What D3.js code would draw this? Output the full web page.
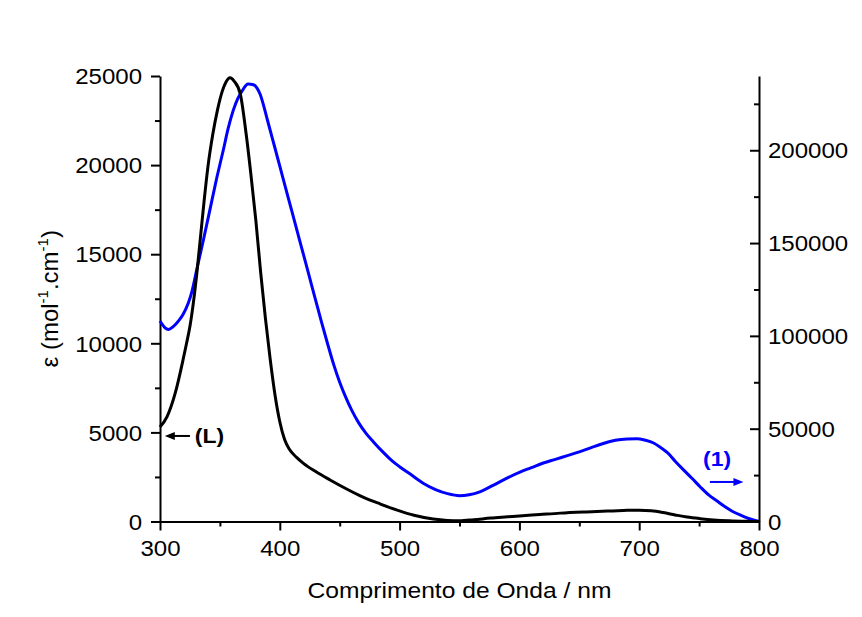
<!DOCTYPE html>
<html>
<head>
<meta charset="utf-8">
<script src="https://cdn.jsdelivr.net/npm/d3@7"></script>
<style>
  body { margin: 0; background: #fff; }
  svg { display: block; }
  text { font-family: "Liberation Sans", Arial, sans-serif; fill: #000; }
</style>
</head>
<body>
<svg id="chart" width="862" height="617"></svg>
<script>
// ---- data ----
const xTicks = [300, 400, 500, 600, 700, 800];
const xMinorTicks = [350, 450, 550, 650, 750];
const yLeftTicks = [0, 5000, 10000, 15000, 20000, 25000];
const yLeftMinorTicks = [2500, 7500, 12500, 17500, 22500];
const yRightTicks = [0, 50000, 100000, 150000, 200000];
const yRightMinorTicks = [25000, 75000, 125000, 175000, 225000];

// ligand (L), left axis
const wavelengthL = [300, 305.8, 312.7, 319.2, 322, 325, 328, 331, 334, 337, 340, 344, 348, 352, 355, 358.5, 362, 367, 372, 376, 380, 384, 388, 392, 396, 400, 404, 408, 414, 420, 430, 442, 455, 469, 484, 498, 512, 528, 540, 550, 562, 576, 590, 600, 617, 634, 656, 678, 690, 700, 710, 720, 730, 740, 751, 762, 775, 790, 800];
const epsilonL    = [5300, 5870, 7200, 9060, 9950, 10950, 12350, 14100, 16100, 18100, 19900, 21700, 23100, 24150, 24650, 24900, 24700, 24000, 21700, 19400, 16900, 14000, 11400, 9100, 7100, 5600, 4600, 4050, 3600, 3250, 2800, 2330, 1850, 1380, 980, 640, 350, 140, 60, 40, 100, 190, 260, 310, 390, 470, 540, 595, 625, 635, 600, 500, 370, 250, 160, 90, 40, 10, 0];

// complex (1), right axis
const wavelength1 = [300, 304, 307, 311, 316, 319.2, 326.7, 331.3, 336, 341.7, 347, 352.8, 357, 361.2, 365, 368.4, 373.5, 378, 381, 383.5, 390, 395, 400, 405, 410, 415, 420, 425, 430, 435, 440, 445, 450, 455, 460, 466, 472, 478, 486, 494, 500, 510, 520, 530, 540, 550, 558, 567, 578, 590, 600, 610, 620, 630, 640, 650, 660, 670, 680, 690, 698, 705, 712, 718, 724, 730, 737, 744, 751, 758, 765, 772, 778, 785, 792, 800];
const epsilon1    = [108000, 104500, 103500, 105000, 108500, 111500, 124000, 137500, 151000, 168000, 184000, 200000, 212000, 221600, 228000, 231800, 235700, 235300, 233500, 230300, 215500, 203500, 191400, 179300, 167300, 155200, 143200, 131100, 119000, 107000, 95500, 84500, 75000, 67000, 60000, 53000, 47500, 43000, 37500, 32500, 29500, 25000, 20500, 17200, 15000, 13900, 14400, 16000, 19500, 23500, 26500, 29000, 31500, 33500, 35500, 37500, 39800, 42000, 43800, 44500, 44600, 43800, 42300, 39800, 36800, 32500, 27800, 23300, 18600, 14300, 11000, 7800, 5400, 3300, 1500, 0];

const xTitle = "Comprimento de Onda / nm";
const labelL = "(L)";
const label1 = "(1)";

// ---- layout ----
const SX = 1.12; // horizontal text stretch seen in the reference
const svg = d3.select("#chart");
svg.append("rect").attr("width", 862).attr("height", 617).attr("fill", "#fff");

const x = d3.scaleLinear().domain([300, 800]).range([160, 759]);
const yL = d3.scaleLinear().domain([0, 25000]).range([521.5, 76]);
const yR = d3.scaleLinear().domain([0, 240000]).range([521.5, 76]);

const BLUE = "#0000ff";

function styleAxis(g) {
  g.selectAll("path.domain").attr("stroke", "#000").attr("stroke-width", 2);
  g.selectAll(".tick line").attr("stroke", "#000").attr("stroke-width", 2);
  g.selectAll("text")
    .style("font-family", '"Liberation Sans", Arial, sans-serif')
    .style("font-size", "21.5px")
    .attr("fill", "#000")
    .attr("transform", `scale(${SX},1)`);
}

// bottom axis
const gxMinor = svg.append("g").attr("transform", `translate(0,${yL(0)})`)
  .call(d3.axisBottom(x).tickValues(xMinorTicks).tickSize(5).tickFormat(""));
gxMinor.select("path.domain").remove();
styleAxis(gxMinor);
const gx = svg.append("g").attr("transform", `translate(0,${yL(0)})`)
  .call(d3.axisBottom(x).tickValues(xTicks).tickSizeInner(9).tickSizeOuter(0).tickPadding(10.5).tickFormat(d3.format("d")));
styleAxis(gx);

// left axis
const gyMinor = svg.append("g").attr("transform", `translate(${x(300)},0)`)
  .call(d3.axisLeft(yL).tickValues(yLeftMinorTicks).tickSize(5).tickFormat(""));
gyMinor.select("path.domain").remove();
styleAxis(gyMinor);
const gy = svg.append("g").attr("transform", `translate(${x(300)},0)`)
  .call(d3.axisLeft(yL).tickValues(yLeftTicks).tickSizeInner(9).tickSizeOuter(0).tickPadding(7).tickFormat(d3.format("d")));
styleAxis(gy);
gy.selectAll("text").attr("dy", "0.36em");

// right axis (ticks pointing inward)
const grMinor = svg.append("g").attr("transform", `translate(${x(800)},0)`)
  .call(d3.axisRight(yR).tickValues(yRightMinorTicks).tickSize(-5).tickFormat(""));
grMinor.select("path.domain").remove();
styleAxis(grMinor);
const gr = svg.append("g").attr("transform", `translate(${x(800)},0)`)
  .call(d3.axisRight(yR).tickValues(yRightTicks).tickSizeInner(-9).tickSizeOuter(0).tickPadding(8).tickFormat(d3.format("d")));
styleAxis(gr);
gr.selectAll("text").attr("dy", "0.36em");

// lines
const lineL = d3.line().x((d, i) => x(wavelengthL[i])).y(d => yL(d)).curve(d3.curveMonotoneX);
const line1 = d3.line().x((d, i) => x(wavelength1[i])).y(d => yR(d)).curve(d3.curveMonotoneX);

svg.append("path").datum(epsilon1).attr("d", line1)
  .attr("fill", "none").attr("stroke", BLUE).attr("stroke-width", 3).attr("stroke-linejoin", "round");
svg.append("path").datum(epsilonL).attr("d", lineL)
  .attr("fill", "none").attr("stroke", "#000").attr("stroke-width", 3).attr("stroke-linejoin", "round");

// axis titles
svg.append("text")
  .attr("transform", `translate(${(x(300) + x(800)) / 2},598) scale(${SX},1)`)
  .attr("text-anchor", "middle")
  .style("font-size", "22px")
  .text(xTitle);

const yt = svg.append("text")
  .attr("transform", `translate(58,${(yL(0) + yL(25000)) / 2}) rotate(-90)`)
  .attr("text-anchor", "middle")
  .style("font-size", "24px");
yt.append("tspan").text("ε (mol");
yt.append("tspan").attr("dy", -10).style("font-size", "15px").text("-1");
yt.append("tspan").attr("dy", 10).text(".cm");
yt.append("tspan").attr("dy", -10).style("font-size", "15px").text("-1");
yt.append("tspan").attr("dy", 10).text(")");

// annotations
function arrow(x1, x2, y, color) {
  const dir = Math.sign(x2 - x1);
  svg.append("line").attr("x1", x1).attr("x2", x2 - dir * 6).attr("y1", y).attr("y2", y)
    .attr("stroke", color).attr("stroke-width", 2);
  svg.append("path")
    .attr("d", `M${x2},${y} L${x2 - dir * 10},${y - 4} L${x2 - dir * 10},${y + 4} Z`)
    .attr("fill", color);
}
arrow(x(325), x(304), yL(4800), "#000");
svg.append("text")
  .attr("transform", `translate(${x(329)},${yL(4400)}) scale(${SX},1)`)
  .style("font-size", "20.5px").style("font-weight", "bold")
  .text(labelL);

arrow(x(759), x(787), yR(21300), BLUE);
svg.append("text")
  .attr("transform", `translate(${x(753.3)},${yR(29900)}) scale(${SX},1)`)
  .style("font-size", "20.5px").style("font-weight", "bold")
  .attr("fill", BLUE).style("fill", BLUE)
  .text(label1);
</script>
</body>
</html>
